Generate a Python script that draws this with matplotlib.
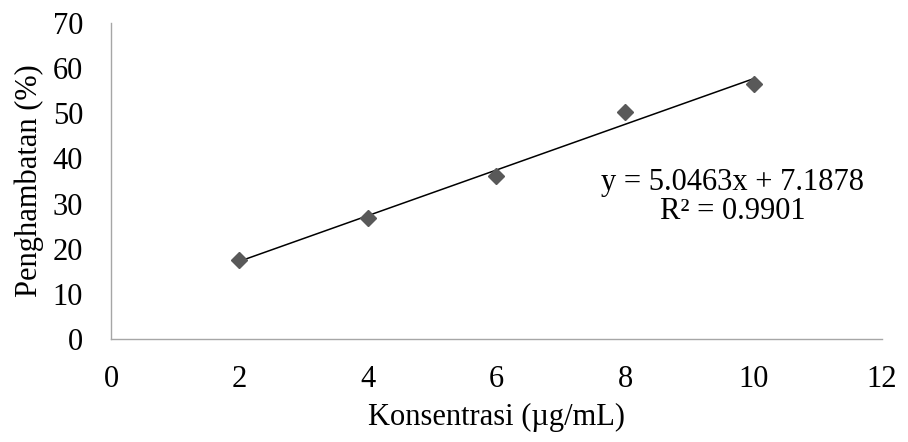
import numpy as np
import matplotlib
matplotlib.use('Agg')
import matplotlib.pyplot as plt

plt.rcParams['font.family'] = ['Liberation Serif', 'DejaVu Serif']

konsentrasi = [2, 4, 6, 8, 10]
penghambatan = [17.6, 26.9, 36.0, 50.2, 56.5]
x_ticks = [0, 2, 4, 6, 8, 10, 12]
y_ticks = [0, 10, 20, 30, 40, 50, 60, 70]
persamaan = 'y = 5.0463x + 7.1878'
r_kuadrat = 'R² = 0.9901'

fig = plt.figure(figsize=(9.08, 4.42), dpi=100)
ax = fig.add_axes([0.1222, 0.233, 0.8492, 0.715])

# garis tren linear
slope, intercept = np.polyfit(konsentrasi, penghambatan, 1)
xs = np.array([konsentrasi[0], konsentrasi[-1]])
ax.plot(xs, slope * xs + intercept, color='black', lw=1.1, zorder=2)

ax.plot(konsentrasi, penghambatan, linestyle='none', marker='D',
        markersize=8, color='#595959', zorder=3)

ax.set_xlim(0, 12)
ax.set_ylim(0, 70)
ax.set_xticks(x_ticks)
ax.set_yticks(y_ticks)
ax.tick_params(length=0, labelsize=22)
ax.tick_params(axis='x', pad=19)
ax.tick_params(axis='y', pad=20)

for s in ['top', 'right']:
    ax.spines[s].set_visible(False)
for s in ['left', 'bottom']:
    ax.spines[s].set_color('#a6a6a6')
    ax.spines[s].set_linewidth(1.0)

ax.set_xlabel('Konsentrasi (µg/mL)', fontsize=22, labelpad=6)
ax.set_ylabel('Penghambatan (%)', fontsize=22, labelpad=6)

ax.text(9.67, 31.5, persamaan + '\n' + r_kuadrat, fontsize=22,
        ha='center', va='center', multialignment='center', linespacing=1.0)

fig.savefig('out.png', dpi=100)
